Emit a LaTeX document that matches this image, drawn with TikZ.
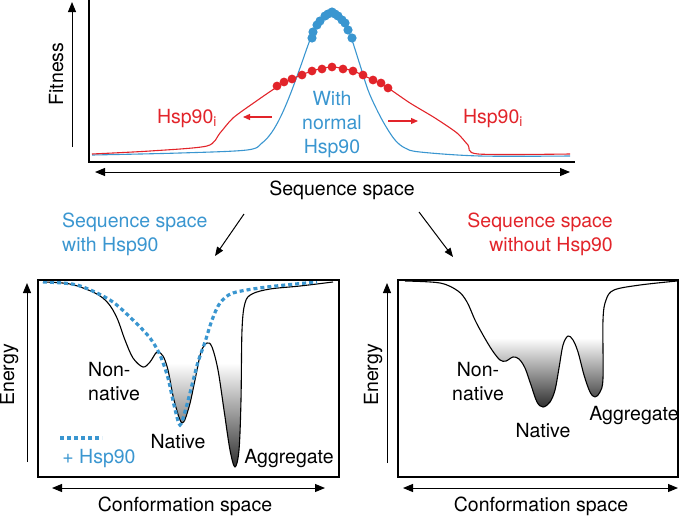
\documentclass[tikz,border=0pt]{standalone}
\usepackage{fontspec}
\setmainfont{TeX Gyre Heros}
\usepackage{tikz}
\usetikzlibrary{arrows.meta, positioning}
\definecolor{hspblue}{RGB}{58,150,208}
\definecolor{hspred}{RGB}{226,36,42}

% energy landscapes (shared by clip and outline)
\newcommand{\landL}{plot[smooth, tension=0.55] coordinates {(43,282) (70,284) (95,293) (108,303) (117,318) (125,340) (133,358) (143,367) (150,362) (157,352) (163,356) (168,370) (174,400) (182,423) (189,407) (195,380) (201,352) (207,343) (212,347) (218,370) (224,410) (230,450) (235,467) (239,450) (241,400) (242,330) (245,303) (252,294) (270,289) (300,286) (333,282)}}
\newcommand{\landR}{plot[smooth, tension=0.55] coordinates {(405,281) (440,283) (458,291) (467,302) (475,320) (483,335) (492,350) (500,360) (506,361) (513,357) (519,359) (525,368) (531,385) (537,402) (543,407) (550,402) (555,390) (559,368) (563,345) (568,336) (573,340) (578,352) (584,375) (590,392) (595,397) (600,392) (603,378) (603,320) (606,300) (614,290) (640,285) (677,281)}}

\begin{document}
\begin{tikzpicture}[x=1pt, y=-1pt,
    lbl/.style={font=\fontsize{19.5}{24}\selectfont, inner sep=0pt},
    axisarr/.style={line width=1pt, -{Triangle[length=10pt, width=8pt]}},
    twoarr/.style={line width=1pt, {Triangle[length=10pt, width=8pt]}-{Triangle[length=10pt, width=8pt]}},
    curve/.style={line width=1.1pt, line join=round},
    hspdots/.style={hspblue, line width=3.2pt, dash pattern=on 4pt off 3pt}]
    \useasboundingbox (0,0) rectangle (685,517);

    % Fitness panel
    \draw[line width=1.1pt] (89,0) -- (89,162) -- (575,162);
    \draw[axisarr] (72,147) -- (72,2);
    \node[lbl, rotate=90, anchor=base] (fit) at (63,74) {Fitness};
    \draw[twoarr] (95,172) -- (570,172);
    \node[lbl, anchor=base] (seq) at (342,195) {Sequence space};
    \draw[curve, hspblue] plot[smooth, tension=0.55] coordinates {(92,155) (180,153) (247,150) (262,143) (272,132) (281,116) (290,95) (300,68) (310,40) (318,24) (325,15) (332,12) (339,15) (346,25) (352,40) (360,65) (368,90) (376,108) (385,125) (395,140) (405,148) (420,152) (480,156) (570,156)};
    \draw[curve, hspred] plot[smooth, tension=0.45] coordinates {(92,154) (150,151) (207,146) (220,133) (233,118) (255,102) (277,87) (292,79) (312,71) (332,67) (353,71) (373,80) (388,88) (410,103) (435,118) (457,133) (468,145) (478,154) (570,154)};
    \foreach \p in {(277,86),(284,82),(292,79),(302,75),(312,71),(322,69),(332,67),(343,69),(353,71),(363,75),(373,80),(381,83),(388,88)}
        \fill[hspred] \p circle[radius=4.4pt];
    \foreach \p in {(312,38),(313,32),(317,25),(320,21),(325,16),(328,14),(332,12),(335,14),(338,16),(342,20),(345,23),(348,30),(352,38)}
        \fill[hspblue] \p circle[radius=4.6pt];
    \node[lbl, hspblue, align=center, anchor=north] (normal) at (332,91) {With\\normal\\Hsp90};
    \node[lbl, hspred, anchor=base] (inhl) at (187,123) {Hsp90\textsubscript{i}};
    \node[lbl, hspred, anchor=base] (inhr) at (493,123) {Hsp90\textsubscript{i}};
    \coordinate (al1) at (272,117);
    \coordinate (al2) at (243,117);
    \coordinate (ar1) at (388,121);
    \coordinate (ar2) at (418,121);
    \draw[hspred, line width=1.2pt, -{Triangle[length=7pt, width=6pt]}] (al1) -- (al2);
    \draw[hspred, line width=1.2pt, -{Triangle[length=7pt, width=6pt]}] (ar1) -- (ar2);

    % split arrows
    \node[lbl, hspblue, align=left, anchor=north west] (withh) at (62,213) {Sequence space\\with Hsp90};
    \node[lbl, hspred, align=right, anchor=north east] (without) at (613,213) {Sequence space\\without Hsp90};
    \coordinate (sl1) at (244,214);
    \coordinate (sl2) at (215,256);
    \coordinate (sr1) at (419,212);
    \coordinate (sr2) at (453,257);
    \draw[line width=1pt, -{Triangle[length=9pt, width=7pt]}] (sl1) -- (sl2);
    \draw[line width=1pt, -{Triangle[length=9pt, width=7pt]}] (sr1) -- (sr2);

    % Left landscape (with Hsp90)
    \begin{scope}
        \clip \landL -- (333,280) -- (43,280) -- cycle;
        \shade[top color=white, bottom color=black!85] (40,363) rectangle (336,472);
    \end{scope}
    \draw[curve] \landL;
    \draw[hspdots] plot[smooth, tension=0.5] coordinates {(43,282) (77,285) (110,300) (133,320) (150,338) (160,355) (168,378) (174,405) (180,425) (186,408) (192,385) (198,362) (205,342) (212,320) (220,303) (233,293) (267,287) (317,282)};
    \draw[line width=1.2pt] (38,280) rectangle (339,477);
    \draw[axisarr] (27,462) -- (27,283);
    \node[lbl, rotate=90, anchor=base] (enl) at (14,375) {Energy};
    \draw[twoarr] (52,488) -- (325,488);
    \node[lbl, anchor=base] (confl) at (185,511) {Conformation space};
    \node[lbl, align=left, anchor=north west] (nonl) at (88,362) {Non-\\native};
    \node[lbl, anchor=base] (natl) at (178,448) {Native};
    \node[lbl, anchor=base] (aggl) at (289,463) {Aggregate};
    \draw[hspdots] (60,438) -- (102,438);
    \node[lbl, hspblue, anchor=base] (plus) at (99,463) {+ Hsp90};

    % Right landscape (without Hsp90)
    \begin{scope}
        \clip \landR -- (677,279) -- (405,279) -- cycle;
        \shade[top color=white, bottom color=black!85] (400,338) rectangle (676,410);
    \end{scope}
    \draw[curve] \landR;
    \draw[line width=1.2pt] (398,280) rectangle (678,477);
    \draw[axisarr] (387,463) -- (387,283);
    \node[lbl, rotate=90, anchor=base] (enr) at (378,375) {Energy};
    \draw[twoarr] (403,488) -- (678,488);
    \node[lbl, anchor=base] (confr) at (541,511) {Conformation space};
    \node[lbl, align=center, anchor=north] (nonr) at (478,362) {Non-\\native};
    \node[lbl, anchor=base] (natr) at (543,437) {Native};
    \node[lbl, anchor=base] (aggr) at (634,420) {Aggregate};
\end{tikzpicture}
\end{document}
